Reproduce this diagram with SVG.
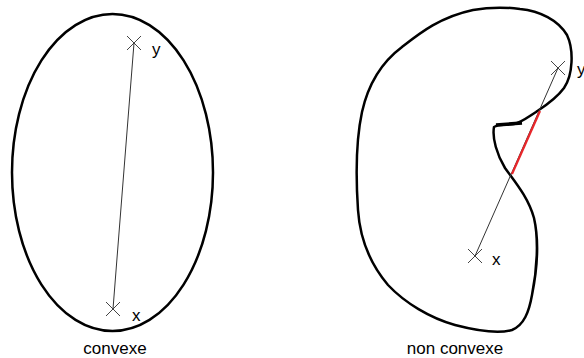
<svg xmlns="http://www.w3.org/2000/svg" width="584" height="358" viewBox="0 0 584 358">
<style>
.shape{fill:none;stroke:#000;stroke-width:2.5;stroke-linejoin:round}
.seg{stroke:#333;stroke-width:1;fill:none}
.cross{stroke:#444;stroke-width:1;fill:none}
.lbl{font-family:"Liberation Sans",Arial,sans-serif;font-size:17px;fill:#000}
</style>
<rect width="584" height="358" fill="#fff"/>
<g id="convexe">
<ellipse class="shape" cx="112.5" cy="172.5" rx="100.5" ry="158.5"/>
<text class="lbl" x="115" y="354" text-anchor="middle">convexe</text>
</g>
<g id="non-convexe">
<path class="shape" d="M473,10 C490,7 505,7 520,9 C540,11 558,20 567,35 C574,50 573,75 564,88 C556,99 545,106 536,112 C528,117 522,122 514,124 C508,125 502,124 496,126 L494,127 C492,138 497,155 505,168 C515,182 528,197 534,218 C539,240 537,270 532,295 C529,312 524,325 512,330 C498,334 478,331 455,325 C430,318 405,303 388,285 C372,266 360,240 358,210 C356,180 356,140 362,112 C368,85 382,62 402,47 C420,33 440,17 473,10 Z"/>
<path d="M496,125 L522,123" stroke="#000" stroke-width="3.5" fill="none"/>
<text class="lbl" x="455" y="354" text-anchor="middle">non convexe</text>
</g>
<g id="points">
<path class="cross" d="M127,36 L141,50 M141,36 L127,50"/>
<path class="cross" d="M106,302 L120,316 M120,302 L106,316"/>
<path class="cross" d="M551,61 L565,75 M565,61 L551,75"/>
<path class="cross" d="M468,249 L482,263 M482,249 L468,263"/>
<text class="lbl" x="152" y="55">y</text>
<text class="lbl" x="132" y="321">x</text>
<text class="lbl" x="577" y="75">y</text>
<text class="lbl" x="492" y="265">x</text>
</g>
<g id="connectors">
<line class="seg" x1="113" y1="309" x2="134" y2="43"/>
<line class="seg" x1="475" y1="256" x2="558" y2="68"/>
<line x1="540" y1="111" x2="512" y2="174" stroke="#e8262a" stroke-width="2.2"/>
</g>
</svg>
